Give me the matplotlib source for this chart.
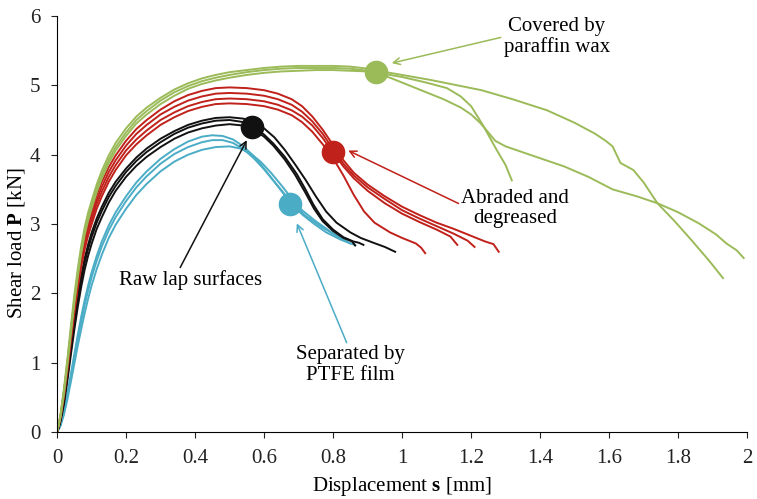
import matplotlib
matplotlib.use('Agg')
import matplotlib.pyplot as plt

plt.rcParams['font.family'] = 'Liberation Serif'
plt.rcParams['mathtext.fontset'] = 'custom'
plt.rcParams['mathtext.rm'] = 'Liberation Serif'
plt.rcParams['mathtext.bf'] = 'Liberation Serif:bold'

# colours of the four surface treatments
green = '#9BBB59'
red = '#C0211A'
black = '#111111'
cyan = '#4BACC6'

# --- Covered by paraffin wax: (displacement mm, load kN) ---
g1 = [(0, 0), (0.005, 0.12), (0.01, 0.25), (0.02, 0.62), (0.03, 1.05), (0.04, 1.52), (0.05, 1.97), (0.06, 2.35),
      (0.07, 2.68), (0.08, 2.95), (0.09, 3.16), (0.1, 3.33), (0.115, 3.57), (0.13, 3.77), (0.15, 3.99), (0.17, 4.17),
      (0.2, 4.38), (0.23, 4.55), (0.26, 4.68), (0.3, 4.82), (0.34, 4.94), (0.38, 5.03), (0.42, 5.1), (0.46, 5.15),
      (0.5, 5.19), (0.55, 5.22), (0.6, 5.25), (0.65, 5.27), (0.7, 5.28), (0.75, 5.28), (0.8, 5.28), (0.85, 5.27),
      (0.9, 5.24), (0.93, 5.21), (1.0, 5.15), (1.08, 5.08), (1.16, 5.0), (1.23, 4.93), (1.32, 4.8), (1.42, 4.64),
      (1.5, 4.46), (1.56, 4.3), (1.59, 4.2), (1.61, 4.12), (1.633, 3.88), (1.67, 3.78), (1.7, 3.6), (1.74, 3.3),
      (1.79, 3.04), (1.84, 2.76), (1.89, 2.47), (1.93, 2.22)]
g2 = [(0, 0), (0.005, 0.11), (0.01, 0.23), (0.02, 0.58), (0.03, 1.0), (0.04, 1.46), (0.05, 1.9), (0.06, 2.28),
      (0.07, 2.62), (0.08, 2.89), (0.09, 3.1), (0.1, 3.27), (0.115, 3.51), (0.13, 3.71), (0.15, 3.93), (0.17, 4.11),
      (0.2, 4.32), (0.23, 4.5), (0.26, 4.63), (0.3, 4.78), (0.34, 4.9), (0.38, 4.99), (0.42, 5.06), (0.46, 5.11),
      (0.5, 5.15), (0.55, 5.19), (0.6, 5.22), (0.65, 5.24), (0.7, 5.25), (0.75, 5.25), (0.8, 5.25), (0.85, 5.24),
      (0.9, 5.21), (0.93, 5.17), (0.97, 5.1), (1.0, 5.04), (1.06, 4.92), (1.12, 4.8), (1.17, 4.68), (1.2, 4.58),
      (1.226, 4.46), (1.25, 4.32), (1.27, 4.2), (1.3, 4.12), (1.37, 4.0), (1.47, 3.83), (1.54, 3.68), (1.61, 3.5),
      (1.68, 3.4), (1.74, 3.3), (1.8, 3.17), (1.86, 3.01), (1.91, 2.85), (1.94, 2.72), (1.97, 2.62), (1.99, 2.51)]
g3 = [(0, 0), (0.005, 0.1), (0.01, 0.22), (0.02, 0.55), (0.03, 0.96), (0.04, 1.41), (0.05, 1.85), (0.06, 2.23),
      (0.07, 2.57), (0.08, 2.84), (0.09, 3.05), (0.1, 3.22), (0.115, 3.46), (0.13, 3.66), (0.15, 3.88), (0.17, 4.06),
      (0.2, 4.27), (0.23, 4.45), (0.26, 4.58), (0.3, 4.73), (0.34, 4.85), (0.38, 4.95), (0.42, 5.02), (0.46, 5.07),
      (0.5, 5.11), (0.55, 5.15), (0.6, 5.18), (0.65, 5.2), (0.7, 5.21), (0.75, 5.22), (0.8, 5.22), (0.85, 5.21),
      (0.9, 5.2), (0.93, 5.18), (1.0, 5.12), (1.07, 5.04), (1.13, 4.96), (1.17, 4.84), (1.2, 4.7), (1.235, 4.42),
      (1.274, 4.07), (1.3, 3.85), (1.318, 3.63)]

# --- Abraded and degreased ---
r1 = [(0, 0), (0.005, 0.11), (0.01, 0.23), (0.02, 0.58), (0.03, 0.99), (0.04, 1.44), (0.05, 1.87), (0.06, 2.24),
      (0.07, 2.57), (0.08, 2.83), (0.09, 3.03), (0.1, 3.19), (0.115, 3.42), (0.13, 3.61), (0.15, 3.82), (0.17, 3.99),
      (0.2, 4.2), (0.23, 4.37), (0.26, 4.5), (0.3, 4.65), (0.34, 4.77), (0.38, 4.86), (0.42, 4.92), (0.46, 4.96),
      (0.5, 4.97), (0.55, 4.96), (0.6, 4.93), (0.64, 4.88), (0.68, 4.8), (0.71, 4.7), (0.74, 4.55), (0.77, 4.36),
      (0.8, 4.14), (0.83, 3.92), (0.86, 3.74), (0.9, 3.57), (0.95, 3.4), (1.0, 3.25), (1.05, 3.13), (1.1, 3.02),
      (1.15, 2.93), (1.2, 2.83), (1.24, 2.75), (1.265, 2.71), (1.28, 2.6)]
r2 = [(0, 0), (0.005, 0.1), (0.01, 0.22), (0.02, 0.55), (0.03, 0.95), (0.04, 1.39), (0.05, 1.81), (0.06, 2.18),
      (0.07, 2.5), (0.08, 2.76), (0.09, 2.96), (0.1, 3.12), (0.115, 3.35), (0.13, 3.54), (0.15, 3.75), (0.17, 3.92),
      (0.2, 4.13), (0.23, 4.3), (0.26, 4.43), (0.3, 4.58), (0.34, 4.69), (0.38, 4.78), (0.42, 4.84), (0.46, 4.88),
      (0.5, 4.89), (0.55, 4.88), (0.6, 4.85), (0.64, 4.8), (0.68, 4.72), (0.71, 4.62), (0.74, 4.48), (0.77, 4.3),
      (0.8, 4.08), (0.83, 3.87), (0.86, 3.7), (0.9, 3.53), (0.95, 3.36), (1.0, 3.2), (1.05, 3.08), (1.1, 2.97),
      (1.15, 2.86), (1.19, 2.76), (1.21, 2.67)]
r3 = [(0, 0), (0.005, 0.1), (0.01, 0.21), (0.02, 0.53), (0.03, 0.92), (0.04, 1.35), (0.05, 1.76), (0.06, 2.13),
      (0.07, 2.44), (0.08, 2.7), (0.09, 2.9), (0.1, 3.06), (0.115, 3.29), (0.13, 3.47), (0.15, 3.68), (0.17, 3.85),
      (0.2, 4.06), (0.23, 4.22), (0.26, 4.35), (0.3, 4.5), (0.34, 4.61), (0.38, 4.7), (0.42, 4.76), (0.46, 4.8),
      (0.5, 4.81), (0.55, 4.8), (0.6, 4.77), (0.64, 4.72), (0.68, 4.64), (0.71, 4.55), (0.74, 4.42), (0.77, 4.24),
      (0.8, 4.03), (0.83, 3.83), (0.86, 3.66), (0.9, 3.48), (0.95, 3.3), (1.0, 3.15), (1.05, 3.03), (1.1, 2.92),
      (1.14, 2.82), (1.16, 2.7)]
r4 = [(0, 0), (0.005, 0.1), (0.01, 0.2), (0.02, 0.51), (0.03, 0.89), (0.04, 1.31), (0.05, 1.71), (0.06, 2.07),
      (0.07, 2.38), (0.08, 2.63), (0.09, 2.83), (0.1, 2.99), (0.115, 3.22), (0.13, 3.4), (0.15, 3.61), (0.17, 3.78),
      (0.2, 3.99), (0.23, 4.15), (0.26, 4.28), (0.3, 4.43), (0.34, 4.54), (0.38, 4.63), (0.42, 4.69), (0.46, 4.73),
      (0.5, 4.74), (0.55, 4.73), (0.6, 4.7), (0.64, 4.65), (0.68, 4.57), (0.71, 4.47), (0.74, 4.33), (0.77, 4.15),
      (0.8, 3.95), (0.83, 3.7), (0.86, 3.42), (0.89, 3.18), (0.92, 3.02), (0.965, 2.88), (1.0, 2.8), (1.04, 2.72),
      (1.055, 2.66), (1.067, 2.58)]

# --- Raw lap surfaces ---
b1 = [(0, 0), (0.005, 0.08), (0.01, 0.18), (0.02, 0.46), (0.03, 0.82), (0.04, 1.22), (0.05, 1.6), (0.06, 1.95),
      (0.07, 2.25), (0.08, 2.5), (0.09, 2.7), (0.1, 2.87), (0.115, 3.08), (0.13, 3.25), (0.15, 3.45), (0.17, 3.61),
      (0.2, 3.8), (0.23, 3.96), (0.26, 4.09), (0.3, 4.23), (0.34, 4.34), (0.38, 4.43), (0.42, 4.49), (0.46, 4.53),
      (0.5, 4.54), (0.54, 4.52), (0.57, 4.47), (0.6, 4.38), (0.63, 4.25), (0.66, 4.07), (0.69, 3.86), (0.72, 3.64),
      (0.75, 3.4), (0.78, 3.18), (0.81, 3.02), (0.85, 2.88), (0.88, 2.8), (0.917, 2.73), (0.95, 2.67), (0.98, 2.6)]
b2 = [(0, 0), (0.005, 0.07), (0.01, 0.17), (0.02, 0.44), (0.03, 0.79), (0.04, 1.18), (0.05, 1.55), (0.06, 1.89),
      (0.07, 2.19), (0.08, 2.44), (0.09, 2.64), (0.1, 2.81), (0.115, 3.02), (0.13, 3.19), (0.15, 3.39), (0.17, 3.55),
      (0.2, 3.75), (0.23, 3.91), (0.26, 4.04), (0.3, 4.18), (0.34, 4.3), (0.38, 4.39), (0.42, 4.45), (0.46, 4.49),
      (0.5, 4.5), (0.54, 4.47), (0.57, 4.4), (0.6, 4.29), (0.627, 4.16), (0.66, 3.97), (0.695, 3.72), (0.72, 3.5),
      (0.743, 3.28), (0.77, 3.07), (0.8, 2.92), (0.83, 2.81), (0.858, 2.75), (0.875, 2.73), (0.888, 2.7)]
b3 = [(0, 0), (0.005, 0.06), (0.01, 0.15), (0.02, 0.4), (0.03, 0.74), (0.04, 1.11), (0.05, 1.47), (0.06, 1.8),
      (0.07, 2.09), (0.08, 2.34), (0.09, 2.54), (0.1, 2.71), (0.115, 2.93), (0.13, 3.1), (0.15, 3.31), (0.17, 3.48),
      (0.2, 3.68), (0.23, 3.84), (0.26, 3.97), (0.3, 4.11), (0.34, 4.23), (0.38, 4.32), (0.42, 4.38), (0.46, 4.42),
      (0.5, 4.44), (0.54, 4.42), (0.57, 4.36), (0.6, 4.26), (0.627, 4.13), (0.66, 3.93), (0.69, 3.71), (0.72, 3.45),
      (0.745, 3.22), (0.77, 3.04), (0.8, 2.9), (0.83, 2.8), (0.855, 2.75), (0.864, 2.69)]

# --- Separated by PTFE film ---
c1 = [(0, 0), (0.005, 0.05), (0.01, 0.11), (0.02, 0.3), (0.03, 0.55), (0.04, 0.83), (0.05, 1.12), (0.06, 1.4),
      (0.07, 1.66), (0.08, 1.9), (0.09, 2.11), (0.1, 2.3), (0.115, 2.54), (0.13, 2.75), (0.15, 2.98), (0.17, 3.17),
      (0.2, 3.4), (0.23, 3.6), (0.26, 3.76), (0.3, 3.94), (0.34, 4.08), (0.38, 4.19), (0.42, 4.26), (0.45, 4.28),
      (0.48, 4.27), (0.51, 4.22), (0.54, 4.12), (0.57, 3.98), (0.6, 3.8), (0.625, 3.64), (0.65, 3.48), (0.675, 3.32),
      (0.71, 3.14), (0.743, 3.01), (0.78, 2.88), (0.82, 2.78), (0.845, 2.73), (0.864, 2.7)]
c2 = [(0, 0), (0.005, 0.05), (0.01, 0.1), (0.02, 0.28), (0.03, 0.52), (0.04, 0.79), (0.05, 1.07), (0.06, 1.34),
      (0.07, 1.59), (0.08, 1.83), (0.09, 2.04), (0.1, 2.23), (0.115, 2.47), (0.13, 2.68), (0.15, 2.91), (0.17, 3.1),
      (0.2, 3.33), (0.23, 3.53), (0.26, 3.69), (0.3, 3.87), (0.34, 4.01), (0.38, 4.11), (0.42, 4.18), (0.45, 4.21),
      (0.48, 4.21), (0.51, 4.17), (0.54, 4.08), (0.57, 3.95), (0.6, 3.79), (0.63, 3.61), (0.66, 3.43), (0.69, 3.26),
      (0.72, 3.12), (0.76, 2.98), (0.8, 2.86), (0.83, 2.78), (0.85, 2.72)]
c3 = [(0, 0), (0.005, 0.04), (0.01, 0.09), (0.02, 0.25), (0.03, 0.47), (0.04, 0.72), (0.05, 0.98), (0.06, 1.24),
      (0.07, 1.48), (0.08, 1.71), (0.09, 1.92), (0.1, 2.11), (0.115, 2.35), (0.13, 2.56), (0.15, 2.8), (0.17, 2.99),
      (0.2, 3.22), (0.23, 3.42), (0.26, 3.58), (0.3, 3.76), (0.34, 3.9), (0.38, 4.0), (0.42, 4.07), (0.46, 4.11),
      (0.5, 4.12), (0.53, 4.09), (0.56, 4.02), (0.59, 3.9), (0.62, 3.74), (0.65, 3.56), (0.68, 3.37), (0.71, 3.2),
      (0.75, 3.04), (0.79, 2.9), (0.83, 2.77)]

# highlighted point on each group
mark_x = [0.925, 0.80, 0.564, 0.675]
mark_y = [5.19, 4.04, 4.40, 3.29]
mark_c = [green, red, black, cyan]

groups = [([c1, c2, c3], cyan), ([b1, b2, b3], black), ([r1, r2, r3, r4], red), ([g1, g2, g3], green)]

fig, ax = plt.subplots(figsize=(7.57, 4.99), dpi=100)
fig.subplots_adjust(left=0.0753, right=0.987, bottom=0.134, top=0.968)

for curves, col in groups:
    for cur in curves:
        xs = [p[0] for p in cur]
        ys = [p[1] for p in cur]
        ax.plot(xs, ys, color=col, lw=1.4, solid_joinstyle='round')

for mx, my, mc in zip(mark_x, mark_y, mark_c):
    ax.plot(mx, my, 'o', color=mc, markersize=16, zorder=5)

fs = 15
arrow = dict(arrowstyle='->', lw=1.1, shrinkA=0, shrinkB=0, mutation_scale=12)
ax.annotate('Covered by\nparaffin wax', xy=(0.97, 5.32), xytext=(1.448, 5.70),
            ha='center', va='center', fontsize=fs, linespacing=1.1,
            arrowprops=dict(arrow, color=green, relpos=(0.0, 0.5)))
ax.annotate('Abraded and\ndegreased', xy=(0.844, 4.06), xytext=(1.328, 3.22),
            ha='center', va='center', fontsize=fs, linespacing=1.1,
            arrowprops=dict(arrow, color=red, relpos=(0.0, 0.6)))
ax.annotate('Raw lap surfaces', xy=(0.55, 4.21), xytext=(0.386, 2.19),
            ha='center', va='center', fontsize=fs,
            arrowprops=dict(arrow, color=black, relpos=(0.42, 1.0)))
ax.annotate('Separated by\nPTFE film', xy=(0.695, 3.01), xytext=(0.849, 0.966),
            ha='center', va='center', fontsize=fs, linespacing=1.1,
            arrowprops=dict(arrow, color=cyan, relpos=(0.48, 1.0)))

ax.set_xlim(0, 2)
ax.set_ylim(0, 6)
ax.set_xticks([0, 0.2, 0.4, 0.6, 0.8, 1, 1.2, 1.4, 1.6, 1.8, 2])
ax.set_xticklabels(['0', '0.2', '0.4', '0.6', '0.8', '1', '1.2', '1.4', '1.6', '1.8', '2'])
ax.set_yticks(range(7))
ax.spines['top'].set_visible(False)
ax.spines['right'].set_visible(False)
ax.tick_params(direction='out', length=4, labelsize=fs, colors='#222222')
ax.tick_params(axis='x', pad=8)
ax.tick_params(axis='y', pad=8)
ax.set_xlabel(r'Displacement $\mathbf{s}$ [mm]', fontsize=fs, labelpad=5)
ax.set_ylabel(r'Shear load $\mathbf{P}$ [kN]', fontsize=fs)
ax.yaxis.set_label_coords(-0.044, 0.455)

plt.savefig('out.png', dpi=100)
